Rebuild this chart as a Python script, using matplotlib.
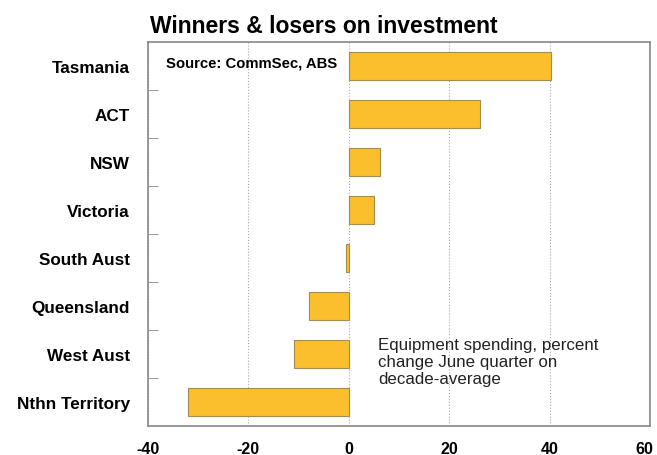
import matplotlib.pyplot as plt
import matplotlib.transforms as mtransforms
from matplotlib.ticker import FixedLocator

plt.rcParams['font.family'] = ['Liberation Sans', 'DejaVu Sans']

# data
states = ['Tasmania', 'ACT', 'NSW', 'Victoria', 'South Aust',
          'Queensland', 'West Aust', 'Nthn Territory']
change = [40.2, 26.1, 6.2, 5.1, -0.6, -7.9, -11.0, -32.1]
xticks = [-40, -20, 0, 20, 40, 60]

fig = plt.figure(figsize=(6.57, 4.56), dpi=100)
ax = fig.add_axes([0.2253, 0.0636, 0.764, 0.842])

ax.barh(range(len(states)), change, height=0.6, color='#FBBF2E',
        edgecolor='#A58A52', linewidth=0.8, zorder=3)

ax.set_xlim(-40, 60)
ax.set_ylim(len(states) - 0.5, -0.5)
ax.set_xticks(xticks)
ax.set_xticklabels([str(t) for t in xticks], fontsize=11.5, fontweight='bold')
ax.tick_params(axis='x', length=0, pad=11)
# last label sits against the right edge, nudge it in a little
lab = ax.get_xticklabels()[-1]
lab.set_transform(lab.get_transform() +
                  mtransforms.ScaledTranslation(-6 / 100, 0, fig.dpi_scale_trans))

ax.set_yticks(range(len(states)))
ax.set_yticklabels(states, fontsize=12.3, fontweight='bold')
ax.tick_params(axis='y', which='major', length=0, pad=13)
ax.yaxis.set_minor_locator(FixedLocator([i + 0.5 for i in range(len(states) - 1)]))
ax.tick_params(axis='y', which='minor', direction='in', length=7, color='#888888')

ax.grid(axis='x', linestyle=':', color='#AAAAAA', linewidth=0.8, zorder=0)
for s in ax.spines.values():
    s.set_color('#888888')
    s.set_linewidth(1.2)

fig.text(0.228, 0.942, 'Winners & losers on investment', fontsize=16.5,
         fontweight='bold', va='center', ha='left')
ax.text(0.036, 0.948, 'Source: CommSec, ABS', transform=ax.transAxes,
        fontsize=10.7, fontweight='bold', va='center', ha='left')
ax.text(0.458, 0.168, 'Equipment spending, percent\nchange June quarter on\ndecade-average',
        transform=ax.transAxes, fontsize=12.2, va='center', ha='left',
        linespacing=1.15, color='#222222')

fig.savefig('out.png', dpi=100)
